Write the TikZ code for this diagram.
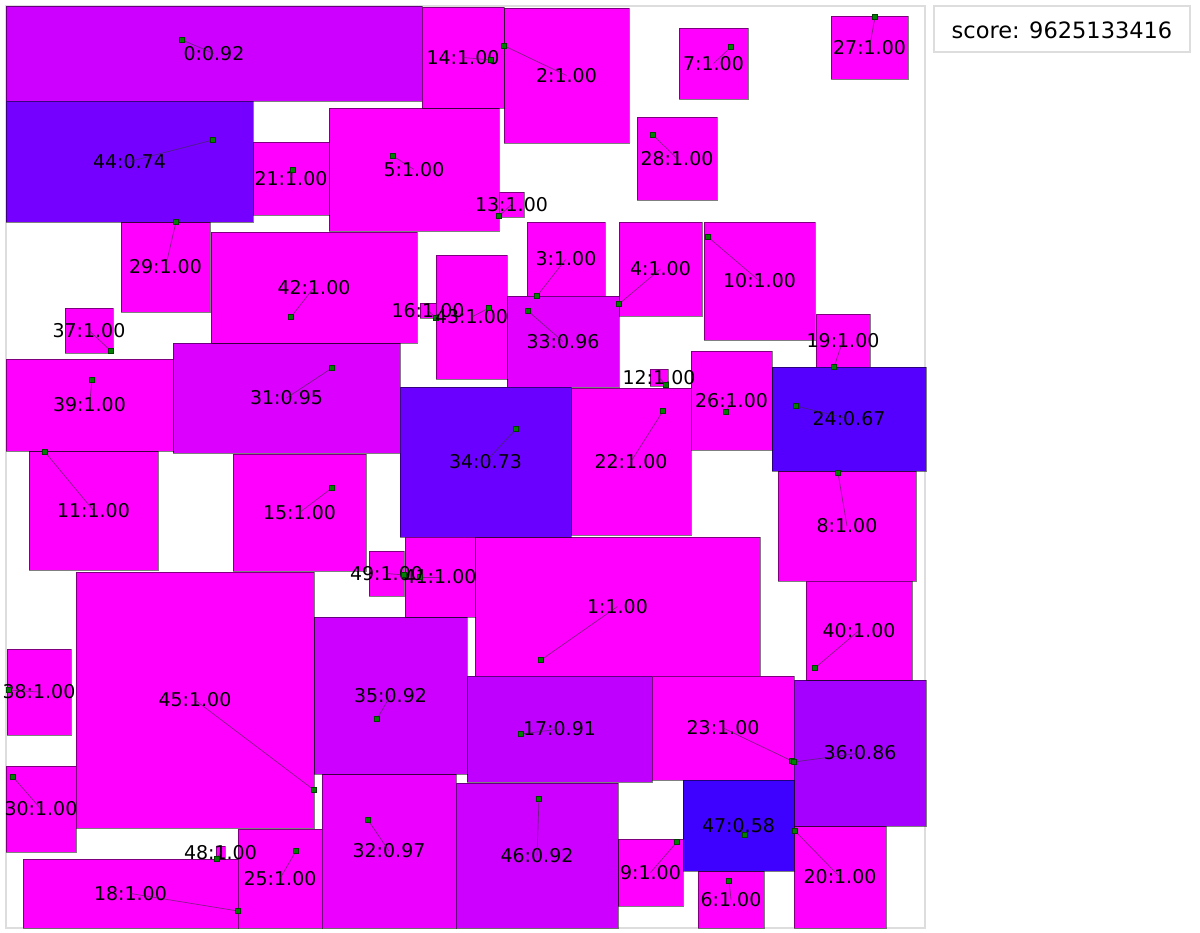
\documentclass[tikz,border=0pt]{standalone}
\usepackage{fontspec}
\setmainfont{DejaVu Sans}
\usepackage{tikz}
\usetikzlibrary{positioning}
\definecolor{s100}{RGB}{255,0,255}
\definecolor{s97}{RGB}{236,0,255}
\definecolor{s96}{RGB}{228,0,255}
\definecolor{s95}{RGB}{220,0,255}
\definecolor{s92}{RGB}{205,0,255}
\definecolor{s91}{RGB}{192,0,255}
\definecolor{s86}{RGB}{165,0,255}
\definecolor{s74}{RGB}{118,0,255}
\definecolor{s73}{RGB}{106,0,255}
\definecolor{s67}{RGB}{85,0,255}
\definecolor{s58}{RGB}{62,0,255}
\definecolor{framegray}{RGB}{221,221,221}
\definecolor{dotgreen}{RGB}{0,128,0}

\begin{document}
\begin{tikzpicture}[x=0.025cm, y=0.025cm]
\tikzstyle{every node}+=[inner sep=0pt]
\tikzstyle{box}=[draw=black, draw opacity=0.5, line width=0.6pt]
\tikzstyle{gdot}=[draw=black!50!dotgreen, fill=dotgreen, minimum size=3.6pt, line width=0.3pt]
\tikzstyle{link}=[draw=black!80, draw opacity=0.6, line width=0.5pt]
\tikzstyle{lbl}=[font=\fontsize{13.5}{15}\selectfont]
\useasboundingbox (0,0) rectangle (1200,-932);
\draw [framegray, line width=0.8pt] (6,-6) rectangle (925,-928);
% rectangles
\draw [box, fill=s92] (6,-6) rectangle (422,-101);
\draw [box, fill=s100] (475,-537) rectangle (760,-676);
\draw [box, fill=s100] (504,-8) rectangle (629,-143);
\draw [box, fill=s100] (527,-222) rectangle (605,-296);
\draw [box, fill=s100] (619,-222) rectangle (702,-316);
\draw [box, fill=s100] (329,-108) rectangle (499,-231);
\draw [box, fill=s100] (698,-871) rectangle (764,-928);
\draw [box, fill=s100] (679,-28) rectangle (748,-99);
\draw [box, fill=s100] (778,-471) rectangle (916,-581);
\draw [box, fill=s100] (618,-839) rectangle (683,-906);
\draw [box, fill=s100] (704,-222) rectangle (815,-340);
\draw [box, fill=s100] (29,-451) rectangle (158,-570);
\draw [box, fill=s100] (650,-369) rectangle (668,-386);
\draw [box, fill=s100] (499,-192) rectangle (524,-217);
\draw [box, fill=s100] (422,-7) rectangle (504,-108);
\draw [box, fill=s100] (233,-454) rectangle (366,-571);
\draw [box, fill=s100] (420,-303) rectangle (436,-318);
\draw [box, fill=s91] (467,-676) rectangle (652,-782);
\draw [box, fill=s100] (23,-859) rectangle (238,-928);
\draw [box, fill=s100] (816,-314) rectangle (870,-367);
\draw [box, fill=s100] (794,-826) rectangle (886,-928);
\draw [box, fill=s100] (253,-142) rectangle (329,-215);
\draw [box, fill=s100] (571,-388) rectangle (691,-535);
\draw [box, fill=s100] (652,-676) rectangle (794,-780);
\draw [box, fill=s67] (772,-367) rectangle (926,-471);
\draw [box, fill=s100] (238,-829) rectangle (322,-928);
\draw [box, fill=s100] (691,-351) rectangle (772,-450);
\draw [box, fill=s100] (831,-16) rectangle (908,-79);
\draw [box, fill=s100] (637,-117) rectangle (717,-200);
\draw [box, fill=s100] (121,-222) rectangle (210,-312);
\draw [box, fill=s100] (6,-766) rectangle (76,-852);
\draw [box, fill=s95] (173,-343) rectangle (400,-453);
\draw [box, fill=s97] (322,-774) rectangle (456,-928);
\draw [box, fill=s96] (507,-296) rectangle (619,-387);
\draw [box, fill=s73] (400,-387) rectangle (571,-537);
\draw [box, fill=s92] (314,-617) rectangle (467,-774);
\draw [box, fill=s86] (794,-680) rectangle (926,-826);
\draw [box, fill=s100] (65,-308) rectangle (113,-353);
\draw [box, fill=s100] (7,-649) rectangle (71,-735);
\draw [box, fill=s100] (6,-359) rectangle (173,-451);
\draw [box, fill=s100] (806,-581) rectangle (912,-680);
\draw [box, fill=s100] (405,-537) rectangle (475,-617);
\draw [box, fill=s100] (211,-232) rectangle (417,-343);
\draw [box, fill=s100] (436,-255) rectangle (507,-379);
\draw [box, fill=s74] (6,-101) rectangle (253,-222);
\draw [box, fill=s100] (76,-572) rectangle (314,-828);
\draw [box, fill=s92] (456,-783) rectangle (618,-928);
\draw [box, fill=s58] (683,-780) rectangle (794,-871);
\draw [box, fill=s100] (216,-846) rectangle (225,-859);
\draw [box, fill=s100] (369,-551) rectangle (404,-596);
% labels, points and links
\node [lbl] (t0) at (214,-53.5) {0:0.92};
\node [gdot] (d0) at (182,-40) {};
\draw [link] (d0) -- (t0.center);
\node [lbl] (t1) at (617.5,-606.5) {1:1.00};
\node [gdot] (d1) at (541,-660) {};
\draw [link] (d1) -- (t1.center);
\node [lbl] (t2) at (566.5,-75.5) {2:1.00};
\node [gdot] (d2) at (503.5,-45.5) {};
\draw [link] (d2) -- (t2.center);
\node [lbl] (t3) at (566,-259) {3:1.00};
\node [gdot] (d3) at (537,-296) {};
\draw [link] (d3) -- (t3.center);
\node [lbl] (t4) at (660.5,-269) {4:1.00};
\node [gdot] (d4) at (619,-304) {};
\draw [link] (d4) -- (t4.center);
\node [lbl] (t5) at (414,-169.5) {5:1.00};
\node [gdot] (d5) at (393,-156) {};
\draw [link] (d5) -- (t5.center);
\node [lbl] (t6) at (731,-899.5) {6:1.00};
\node [gdot] (d6) at (729,-881) {};
\draw [link] (d6) -- (t6.center);
\node [lbl] (t7) at (713.5,-63.5) {7:1.00};
\node [gdot] (d7) at (731,-47) {};
\draw [link] (d7) -- (t7.center);
\node [lbl] (t8) at (847,-526) {8:1.00};
\node [gdot] (d8) at (838,-473) {};
\draw [link] (d8) -- (t8.center);
\node [lbl] (t9) at (650.5,-872.5) {9:1.00};
\node [gdot] (d9) at (677,-842) {};
\draw [link] (d9) -- (t9.center);
\node [lbl] (t10) at (759.5,-281) {10:1.00};
\node [gdot] (d10) at (708,-237) {};
\draw [link] (d10) -- (t10.center);
\node [lbl] (t11) at (93.5,-510.5) {11:1.00};
\node [gdot] (d11) at (45,-452) {};
\draw [link] (d11) -- (t11.center);
\node [lbl] (t12) at (659,-377.5) {12:1.00};
\node [gdot] (d12) at (666,-385) {};
\draw [link] (d12) -- (t12.center);
\node [lbl] (t13) at (511.5,-204.5) {13:1.00};
\node [gdot] (d13) at (499,-216) {};
\draw [link] (d13) -- (t13.center);
\node [lbl] (t14) at (463,-57.5) {14:1.00};
\node [gdot] (d14) at (491,-60) {};
\draw [link] (d14) -- (t14.center);
\node [lbl] (t15) at (299.5,-512.5) {15:1.00};
\node [gdot] (d15) at (332,-488) {};
\draw [link] (d15) -- (t15.center);
\node [lbl] (t16) at (428,-310.5) {16:1.00};
\node [gdot] (d16) at (436,-318) {};
\draw [link] (d16) -- (t16.center);
\node [lbl] (t17) at (559.5,-729) {17:0.91};
\node [gdot] (d17) at (521,-734) {};
\draw [link] (d17) -- (t17.center);
\node [lbl] (t18) at (130.5,-893.5) {18:1.00};
\node [gdot] (d18) at (238,-911) {};
\draw [link] (d18) -- (t18.center);
\node [lbl] (t19) at (843,-340.5) {19:1.00};
\node [gdot] (d19) at (834,-367) {};
\draw [link] (d19) -- (t19.center);
\node [lbl] (t20) at (840,-877) {20:1.00};
\node [gdot] (d20) at (795,-831) {};
\draw [link] (d20) -- (t20.center);
\node [lbl] (t21) at (291,-178.5) {21:1.00};
\node [gdot] (d21) at (293,-170) {};
\draw [link] (d21) -- (t21.center);
\node [lbl] (t22) at (631,-461.5) {22:1.00};
\node [gdot] (d22) at (663,-411) {};
\draw [link] (d22) -- (t22.center);
\node [lbl] (t23) at (723,-728) {23:1.00};
\node [gdot] (d23) at (792,-761) {};
\draw [link] (d23) -- (t23.center);
\node [lbl] (t24) at (849,-419) {24:0.67};
\node [gdot] (d24) at (796,-406) {};
\draw [link] (d24) -- (t24.center);
\node [lbl] (t25) at (280,-878.5) {25:1.00};
\node [gdot] (d25) at (296,-851) {};
\draw [link] (d25) -- (t25.center);
\node [lbl] (t26) at (731.5,-400.5) {26:1.00};
\node [gdot] (d26) at (726,-412) {};
\draw [link] (d26) -- (t26.center);
\node [lbl] (t27) at (869.5,-47.5) {27:1.00};
\node [gdot] (d27) at (875,-17) {};
\draw [link] (d27) -- (t27.center);
\node [lbl] (t28) at (677,-158.5) {28:1.00};
\node [gdot] (d28) at (653,-135) {};
\draw [link] (d28) -- (t28.center);
\node [lbl] (t29) at (165.5,-267) {29:1.00};
\node [gdot] (d29) at (176,-222) {};
\draw [link] (d29) -- (t29.center);
\node [lbl] (t30) at (41,-809) {30:1.00};
\node [gdot] (d30) at (13,-777) {};
\draw [link] (d30) -- (t30.center);
\node [lbl] (t31) at (286.5,-398) {31:0.95};
\node [gdot] (d31) at (332,-368) {};
\draw [link] (d31) -- (t31.center);
\node [lbl] (t32) at (389,-851) {32:0.97};
\node [gdot] (d32) at (368,-820) {};
\draw [link] (d32) -- (t32.center);
\node [lbl] (t33) at (563,-341.5) {33:0.96};
\node [gdot] (d33) at (528,-311) {};
\draw [link] (d33) -- (t33.center);
\node [lbl] (t34) at (485.5,-462) {34:0.73};
\node [gdot] (d34) at (516,-429) {};
\draw [link] (d34) -- (t34.center);
\node [lbl] (t35) at (390.5,-695.5) {35:0.92};
\node [gdot] (d35) at (377,-719) {};
\draw [link] (d35) -- (t35.center);
\node [lbl] (t36) at (860,-753) {36:0.86};
\node [gdot] (d36) at (794,-762) {};
\draw [link] (d36) -- (t36.center);
\node [lbl] (t37) at (89,-330.5) {37:1.00};
\node [gdot] (d37) at (111,-351) {};
\draw [link] (d37) -- (t37.center);
\node [lbl] (t38) at (39,-692) {38:1.00};
\node [gdot] (d38) at (9,-690) {};
\draw [link] (d38) -- (t38.center);
\node [lbl] (t39) at (89.5,-405) {39:1.00};
\node [gdot] (d39) at (92,-380) {};
\draw [link] (d39) -- (t39.center);
\node [lbl] (t40) at (859,-630.5) {40:1.00};
\node [gdot] (d40) at (815,-668) {};
\draw [link] (d40) -- (t40.center);
\node [lbl] (t41) at (440,-577) {41:1.00};
\node [gdot] (d41) at (420,-577) {};
\draw [link] (d41) -- (t41.center);
\node [lbl] (t42) at (314,-287.5) {42:1.00};
\node [gdot] (d42) at (291,-317) {};
\draw [link] (d42) -- (t42.center);
\node [lbl] (t43) at (471.5,-317) {43:1.00};
\node [gdot] (d43) at (489,-308) {};
\draw [link] (d43) -- (t43.center);
\node [lbl] (t44) at (129.5,-161.5) {44:0.74};
\node [gdot] (d44) at (213,-140) {};
\draw [link] (d44) -- (t44.center);
\node [lbl] (t45) at (195,-700) {45:1.00};
\node [gdot] (d45) at (314,-790) {};
\draw [link] (d45) -- (t45.center);
\node [lbl] (t46) at (537,-855.5) {46:0.92};
\node [gdot] (d46) at (539,-799) {};
\draw [link] (d46) -- (t46.center);
\node [lbl] (t47) at (738.5,-825.5) {47:0.58};
\node [gdot] (d47) at (745,-835) {};
\draw [link] (d47) -- (t47.center);
\node [lbl] (t48) at (220.5,-852.5) {48:1.00};
\node [gdot] (d48) at (217,-859) {};
\draw [link] (d48) -- (t48.center);
\node [lbl] (t49) at (386.5,-573.5) {49:1.00};
\node [gdot] (d49) at (404,-575) {};
\draw [link] (d49) -- (t49.center);
% score
\draw [framegray, line width=0.8pt] (934,-6) rectangle (1190,-52);
\node [font=\fontsize{16}{18}\selectfont] (score) at (1062,-30) {score: 9625133416};
\end{tikzpicture}
\end{document}
